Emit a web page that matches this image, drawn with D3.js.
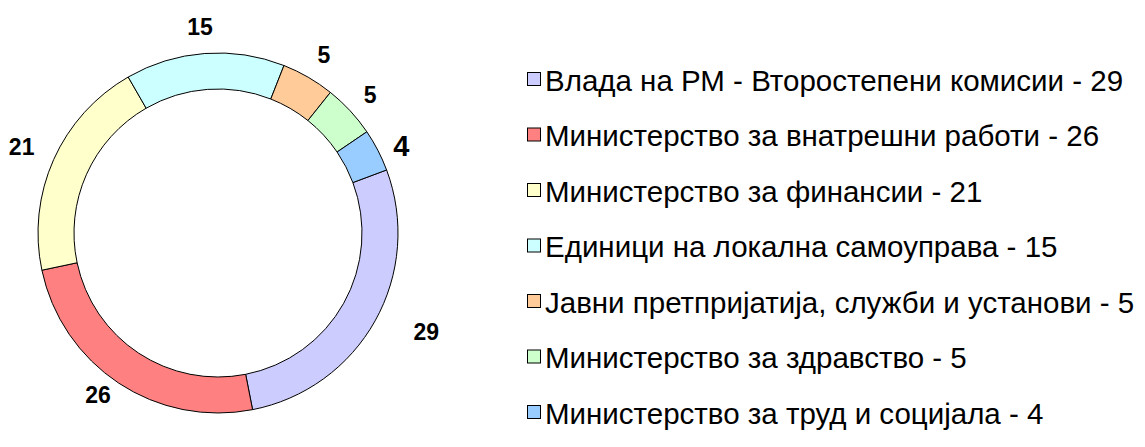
<!DOCTYPE html>
<html>
<head>
<meta charset="utf-8">
<script src="https://cdn.jsdelivr.net/npm/d3@7"></script>
<style>
  html, body { margin: 0; padding: 0; background: #ffffff; }
  svg { display: block; }
</style>
</head>
<body>
<svg id="chart" width="1145" height="447"></svg>
<script>
// ---- data ----
const categories = [
  "Влада на РМ - Второстепени комисии",
  "Министерство за внатрешни работи",
  "Министерство за финансии",
  "Единици на локална самоуправа",
  "Јавни претпријатија, служби и установи",
  "Министерство за здравство",
  "Министерство за труд и социјала"
];
const values = [29, 26, 21, 15, 5, 5, 4];
const colors = ["#CCCCFF", "#FF8080", "#FFFFCC", "#CCFFFF", "#FFCC99", "#CCFFCC", "#99CCFF"];

// ---- drawing ----
const svg = d3.select("#chart");
const cx = 218, cy = 233;
const outerR = 180, innerR = 144;
const start = 69.5 * Math.PI / 180;

const data = categories.map((c, i) => ({ name: c, value: values[i], color: colors[i], i }));

const pie = d3.pie().sort(null).value(d => d.value)
  .startAngle(start).endAngle(start + 2 * Math.PI);
const arcs = pie(data);
const arc = d3.arc().innerRadius(innerR).outerRadius(outerR);

const g = svg.append("g").attr("transform", `translate(${cx},${cy})`);
g.selectAll("path.slice").data(arcs).enter().append("path")
  .attr("class", "slice")
  .attr("d", arc)
  .attr("fill", d => d.data.color)
  .attr("stroke", "#000")
  .attr("stroke-width", 1);

// data labels (placed outside the ring, with small layout nudges)
const labelR = 205;
const labelDR = [25.5, -3.4, 9.4, 2, 2, 0.5, -2.2];
const labelDA = [-3.8, 3, -0.4, -0.8, 0.7, 0.5, 2.1];
const labelSize = [23, 23, 23, 23, 23, 23, 29];
const lblPos = d => {
  const a = (d.startAngle + d.endAngle) / 2 + labelDA[d.data.i] * Math.PI / 180;
  const r = labelR + labelDR[d.data.i];
  return [Math.sin(a) * r, -Math.cos(a) * r];
};
g.selectAll("text.lbl").data(arcs).enter().append("text")
  .attr("class", "lbl")
  .attr("x", d => lblPos(d)[0])
  .attr("y", d => lblPos(d)[1])
  .attr("text-anchor", "middle")
  .attr("dominant-baseline", "central")
  .attr("font-family", "Liberation Sans, Arial, sans-serif")
  .attr("font-weight", "bold")
  .attr("font-size", d => labelSize[d.data.i] + "px")
  .attr("fill", "#000")
  .text(d => d.data.value);

// legend
const legendX = 527, legendY0 = 79, legendStep = 55.5, sq = 14;
const leg = svg.append("g");
const rows = leg.selectAll("g.row").data(data).enter().append("g")
  .attr("class", "row")
  .attr("transform", (d, i) => `translate(${legendX},${legendY0 + i * legendStep})`);
rows.append("rect")
  .attr("x", 0.5).attr("y", -sq / 2 + 0.5)
  .attr("width", sq - 1).attr("height", sq - 1)
  .attr("fill", d => d.color)
  .attr("stroke", "#000").attr("stroke-width", 1);
rows.append("text")
  .attr("x", sq + 4)
  .attr("y", 1)
  .attr("dominant-baseline", "central")
  .attr("font-family", "Liberation Sans, Arial, sans-serif")
  .attr("font-size", "29.5px")
  .attr("fill", "#000")
  .text(d => `${d.name} - ${d.value}`);
</script>
</body>
</html>
